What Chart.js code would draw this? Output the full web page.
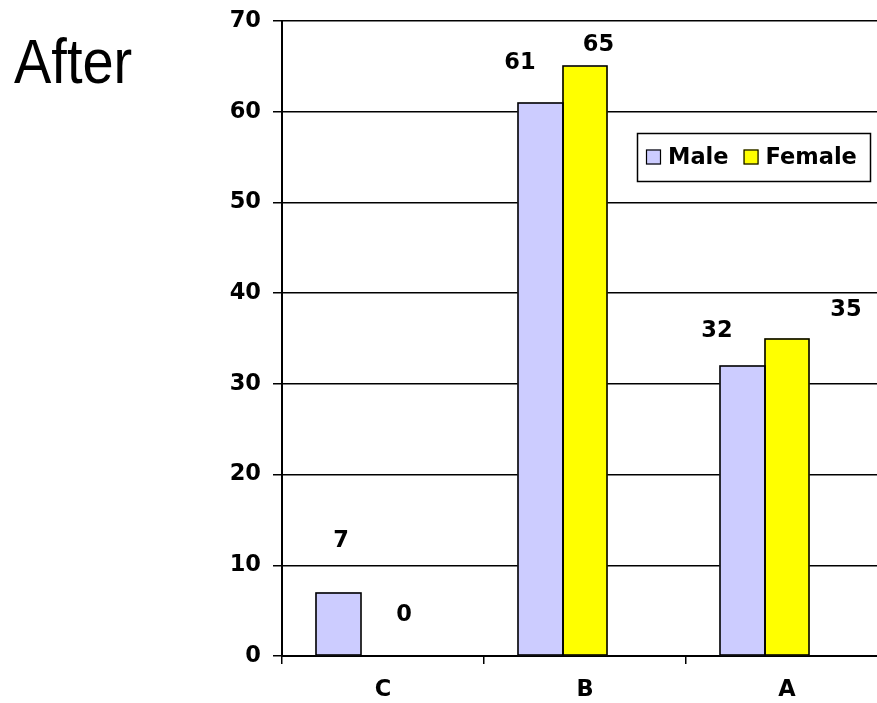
<!DOCTYPE html>
<html>
<head>
<meta charset="utf-8">
<script src="https://cdn.jsdelivr.net/npm/chart.js@4/dist/chart.umd.min.js"></script>
<style>
  html, body { margin: 0; padding: 0; background: #fff; overflow: hidden; }
  #wrap { position: relative; width: 877px; height: 703px; overflow: hidden; }
  #title {
    position: absolute; left: 14px; top: 30px;
    font-family: "Liberation Sans", Arial, sans-serif; font-size: 56px; color: #000;
    transform: scale(1.0, 1.12); transform-origin: left top; line-height: 1;
  }
  #c { position: absolute; left: 0; top: 0; }
</style>
</head>
<body>
<div id="wrap">
  <canvas id="c" width="890" height="703"></canvas>
  <div id="title">After</div>
</div>
<script>
// Categories and values per group
const categories = ['C', 'B', 'A'];
const maleValues = [7, 61, 32];
const femaleValues = [0, 65, 35];
const spacerValues = [null, null, null]; // empty third series slot
const yTicks = [0, 10, 20, 30, 40, 50, 60, 70];

const FONT = '"DejaVu Sans", Verdana, sans-serif';
const FONT_SIZE = 22.5;

// hand-placed value labels: nudge [dx, dy] from bar top-centre
const labelNudge = [
  [[3, -51], [-20, -39], [-25, -35]],  // Male: C, B, A
  [[21, -41], [13.5, -21], [59, -28]]  // Female: C, B, A
];

// outline each bar on its edges so neighbouring bars share one line
const barOutlines = {
  id: 'barOutlines',
  afterDatasetsDraw(chart) {
    const ctx = chart.ctx;
    ctx.save();
    ctx.strokeStyle = '#000';
    ctx.lineWidth = 1.6;
    [0, 1].forEach(di => {
      chart.getDatasetMeta(di).data.forEach(bar => {
        const p = bar.getProps(['x', 'y', 'base', 'width'], true);
        if (Math.abs(p.base - p.y) < 0.5) return;
        const l = Math.round(p.x - p.width / 2), r = Math.round(p.x + p.width / 2);
        ctx.strokeRect(l, Math.round(p.y), r - l, Math.round(p.base) - Math.round(p.y));
      });
    });
    ctx.restore();
  }
};

const valueLabels = {
  id: 'valueLabels',
  afterDatasetsDraw(chart) {
    const ctx = chart.ctx;
    ctx.save();
    ctx.font = 'bold ' + FONT_SIZE + 'px ' + FONT;
    ctx.fillStyle = '#000';
    ctx.textAlign = 'center';
    ctx.textBaseline = 'middle';
    [0, 1].forEach(di => {
      const meta = chart.getDatasetMeta(di);
      const ds = chart.data.datasets[di];
      meta.data.forEach((bar, i) => {
        const n = labelNudge[di][i];
        ctx.fillText(String(ds.data[i]), bar.x + n[0], bar.y + n[1]);
      });
    });
    ctx.restore();
  }
};

const boxLegend = {
  id: 'boxLegend',
  afterDraw(chart) {
    const ctx = chart.ctx;
    ctx.save();
    const x0 = 637, y0 = 133, w = 233, h = 48;
    ctx.fillStyle = '#fff';
    ctx.fillRect(x0, y0, w, h);
    ctx.strokeStyle = '#000';
    ctx.lineWidth = 1.5;
    ctx.strokeRect(x0 + 0.5, y0 + 0.5, w, h);
    ctx.font = 'bold ' + FONT_SIZE + 'px ' + FONT;
    ctx.textBaseline = 'middle';
    ctx.textAlign = 'left';
    let x = x0 + 9;
    const cy = y0 + 24;
    chart.data.datasets.slice(0, 2).forEach(ds => {
      ctx.fillStyle = ds.backgroundColor;
      ctx.fillRect(x, cy - 7.5, 15, 15);
      ctx.lineWidth = 1.2;
      ctx.strokeStyle = '#000';
      ctx.strokeRect(x + 0.5, cy - 7.5 + 0.5, 14, 14);
      ctx.fillStyle = '#000';
      ctx.fillText(ds.label, x + 22, cy + 1);
      x += 22 + ctx.measureText(ds.label).width + 15;
    });
    ctx.restore();
  }
};

new Chart(document.getElementById('c'), {
  type: 'bar',
  data: {
    labels: categories,
    datasets: [
      { label: 'Male', data: maleValues, backgroundColor: '#CCCCFF', borderWidth: 0 },
      { label: 'Female', data: femaleValues, backgroundColor: '#FFFF00', borderWidth: 0 },
      { label: '', data: spacerValues, backgroundColor: 'rgba(0,0,0,0)', borderWidth: 0 }
    ]
  },
  options: {
    responsive: false,
    animation: false,
    devicePixelRatio: 1,
    categoryPercentage: 0.668,
    barPercentage: 1,
    layout: { padding: { top: 21, right: 2, left: 0, bottom: 0 } },
    plugins: { legend: { display: false }, tooltip: { enabled: false } },
    scales: {
      x: {
        grid: { drawOnChartArea: false, drawTicks: true, tickLength: 8, color: '#000', lineWidth: 1.5 },
        border: { color: '#000', width: 2 },
        ticks: { color: '#000', font: { family: FONT, size: FONT_SIZE, weight: 'bold' }, padding: 13 },
        afterFit(s) { s.height = 47; s.paddingLeft = 0; s.paddingRight = 0; }
      },
      y: {
        min: 0, max: 70,
        afterBuildTicks(s) { s.ticks = yTicks.map(v => ({ value: v })); },
        grid: { color: '#000', lineWidth: 1.5, drawTicks: true, tickLength: 9 },
        border: { color: '#000', width: 2 },
        ticks: { color: '#000', font: { family: FONT, size: FONT_SIZE, weight: 'bold' }, padding: 12 },
        afterFit(s) { s.width = 282; s.paddingTop = 0; s.paddingBottom = 0; }
      }
    }
  },
  plugins: [barOutlines, valueLabels, boxLegend]
});
</script>
</body>
</html>
